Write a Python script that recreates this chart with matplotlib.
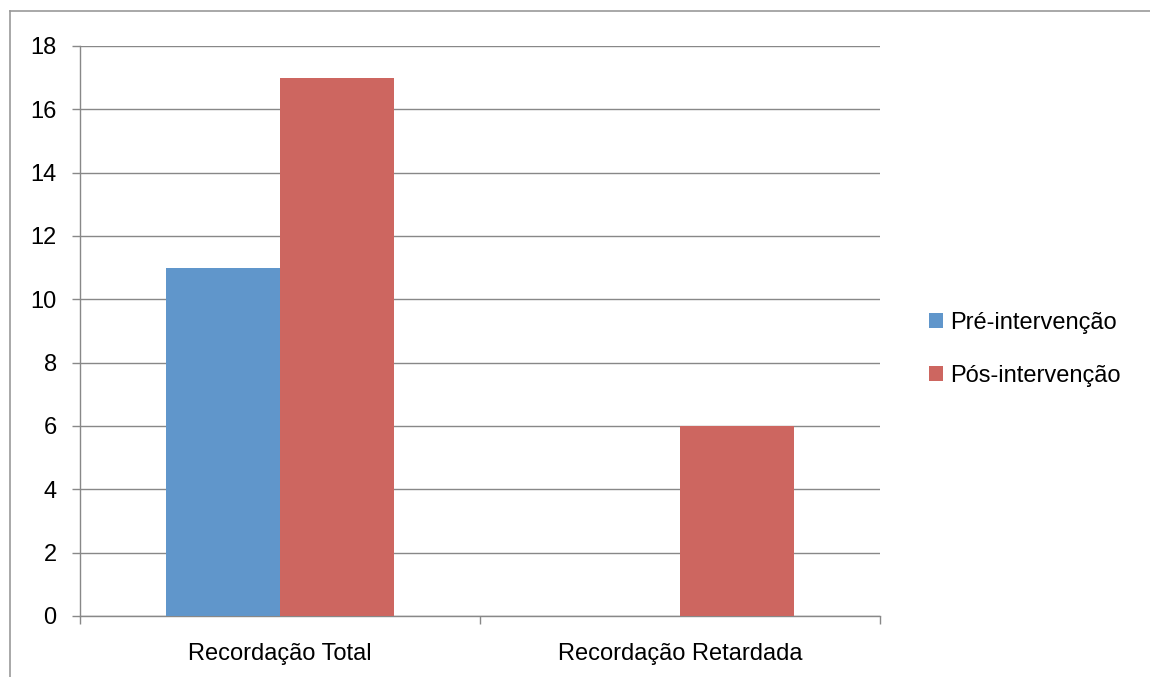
import matplotlib.pyplot as plt
import matplotlib.lines as mlines
import numpy as np

categories = ["Recordação Total", "Recordação Retardada"]
pre = [11, 0]
pos = [17, 6]
series_names = ["Pré-intervenção", "Pós-intervenção"]
yticks = [0, 2, 4, 6, 8, 10, 12, 14, 16, 18]

plt.rcParams['font.family'] = ['Liberation Sans', 'DejaVu Sans']
FS = 17

fig = plt.figure(figsize=(11.5, 6.77), dpi=100)
ax = fig.add_axes([80 / 1150, 61 / 677, 800 / 1150, 570 / 677])

grid_c = "#888888"
x = np.arange(len(categories))
w = 0.285
ax.bar(x - w / 2, pre, w, color="#6096CB", label=series_names[0], zorder=3)
ax.bar(x + w / 2, pos, w, color="#CD6660", label=series_names[1], zorder=3)

ax.set_xlim(-0.5, 1.5)
ax.set_ylim(0, 18)
ax.set_yticks(yticks)
ax.yaxis.grid(True, color=grid_c, linewidth=1.0, zorder=0)
ax.set_xticks(x)
ax.set_xticklabels(categories, fontsize=FS)
ax.set_xticks([-0.5, 0.5, 1.5], minor=True)
ax.tick_params(axis="x", which="major", length=0, pad=19.5)
ax.tick_params(axis="x", which="minor", length=5.8, color=grid_c, width=1)
ax.tick_params(axis="y", length=5.8, color=grid_c, width=1, labelsize=FS, pad=11)
for s in ["top", "right"]:
    ax.spines[s].set_visible(False)
for s in ["left", "bottom"]:
    ax.spines[s].set_color(grid_c)
    ax.spines[s].set_linewidth(1.0)

ax.legend(loc="center left", bbox_to_anchor=(1.061, 0.468), frameon=False,
          fontsize=FS, handlelength=0.62, handleheight=0.62, handletextpad=0.3,
          labelspacing=1.32, borderpad=0, borderaxespad=0)

# chart border (cut off at right and bottom)
fig.add_artist(mlines.Line2D([10 / 1150, 1.0], [1 - 11 / 677, 1 - 11 / 677],
                             color="#999999", linewidth=1.2, transform=fig.transFigure))
fig.add_artist(mlines.Line2D([10 / 1150, 10 / 1150], [0, 1 - 11 / 677],
                             color="#999999", linewidth=1.2, transform=fig.transFigure))

fig.savefig("out.png", dpi=100)
